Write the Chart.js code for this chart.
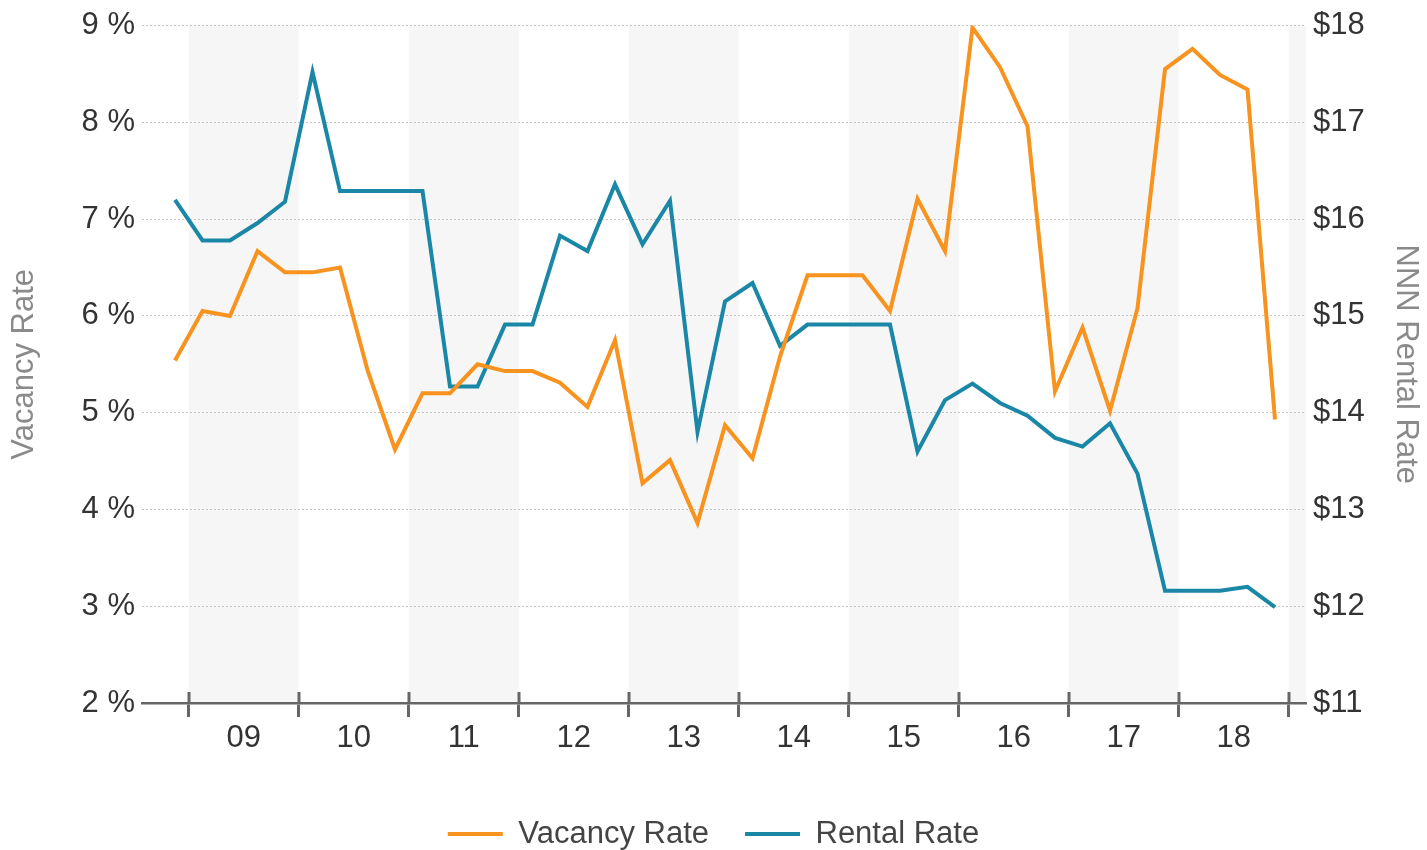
<!DOCTYPE html>
<html>
<head>
<meta charset="utf-8">
<title>Vacancy &amp; Rental Rate</title>
<script src="https://cdn.jsdelivr.net/npm/chart.js@4.4.1/dist/chart.umd.min.js"></script>
<style>
  html, body { margin: 0; padding: 0; background: #fff; }
  #wrap { width: 1427px; height: 850px; }
</style>
</head>
<body>
<div id="wrap"><canvas id="rates" width="1427" height="850"></canvas></div>
<script>
// quarterly series, 2008 Q4 .. 2018 Q4 (x = quarter index)
const quarters = []
for (let y = 2008; y <= 2018; y++) {
  for (let q = 1; q <= 4; q++) {
    if (y === 2008 && q < 4) continue
    quarters.push(y + " Q" + q)
  }
}

const vacancyRate = [
  5.54, 6.05, 6.00, 6.67, 6.45, 6.45, 6.50, 5.44, 4.62, 5.20,
  5.20, 5.50, 5.43, 5.43, 5.31, 5.06, 5.75, 4.27, 4.51, 3.86,
  4.87, 4.53, 5.58, 6.42, 6.42, 6.42, 6.05, 7.21, 6.67, 8.98,
  8.57, 7.96, 5.22, 5.88, 5.02, 6.08, 8.55, 8.76, 8.49, 8.34,
  4.93,
]

const rentalRate = [
  16.20, 15.78, 15.78, 15.96, 16.18, 17.52, 16.29, 16.29, 16.29, 16.29,
  14.27, 14.27, 14.91, 14.91, 15.83, 15.67, 16.36, 15.74, 16.19, 13.80,
  15.15, 15.34, 14.69, 14.91, 14.91, 14.91, 14.91, 13.60, 14.13, 14.30,
  14.10, 13.97, 13.74, 13.65, 13.89, 13.37, 12.16, 12.16, 12.16, 12.20,
  11.99,
]

// year boundaries in quarter-index units, label sits in the middle of each year
const yearLabels = ["09", "10", "11", "12", "13", "14", "15", "16", "17", "18"]
const yearEdges = [0.5, 4.5, 8.5, 12.5, 16.5, 20.5, 24.5, 28.5, 32.5, 36.5, 40.5]

const FONT = "'Liberation Sans', Arial, sans-serif"
const AXIS_GRAY = "#666"

const toPoints = (arr) => arr.map((v, i) => ({ x: i, y: v }))

// alternating shaded year columns behind the plot
const yearBands = {
  id: "yearBands",
  beforeDraw(chart) {
    const { ctx, chartArea, scales } = chart
    const x = scales.x
    ctx.save()
    ctx.fillStyle = "#f6f6f6"
    for (let i = 0; i < yearEdges.length; i += 2) {
      const from = x.getPixelForValue(yearEdges[i])
      const to = i + 1 < yearEdges.length ? x.getPixelForValue(yearEdges[i + 1]) : chartArea.right
      ctx.fillRect(from, chartArea.top, Math.min(to, chartArea.right) - from, chartArea.bottom - chartArea.top)
    }
    ctx.restore()
  },
  // the year tick marks cross the axis line, draw the part above it
  afterDraw(chart) {
    const { ctx, chartArea, scales } = chart
    const x = scales.x
    ctx.save()
    ctx.strokeStyle = AXIS_GRAY
    ctx.lineWidth = 3
    x.ticks.forEach((t) => {
      const px = Math.round(x.getPixelForValue(t.value))
      ctx.beginPath()
      ctx.moveTo(px, chartArea.bottom - 11)
      ctx.lineTo(px, chartArea.bottom)
      ctx.stroke()
    })
    ctx.restore()
  },
}

const ctx = document.getElementById("rates")
new Chart(ctx, {
  type: "line",
  data: {
    labels: quarters,
    datasets: [
      {
        label: "Vacancy Rate",
        data: toPoints(vacancyRate),
        yAxisID: "y",
        borderColor: "#f7931e",
        backgroundColor: "#f7931e",
        borderWidth: 4,
        pointRadius: 0,
        tension: 0,
      },
      {
        label: "Rental Rate",
        data: toPoints(rentalRate),
        yAxisID: "y1",
        borderColor: "#1b87a6",
        backgroundColor: "#1b87a6",
        borderWidth: 4,
        pointRadius: 0,
        tension: 0,
      },
    ],
  },
  options: {
    responsive: false,
    animation: false,
    layout: { padding: { top: 24, left: 0, right: 0, bottom: 0 } },
    plugins: {
      tooltip: { enabled: false },
      legend: {
        position: "bottom",
        maxHeight: 67.5,
        labels: {
          usePointStyle: true,
          pointStyle: "line",
          pointStyleWidth: 55,
          padding: 36,
          color: "#444",
          font: { family: FONT, size: 31 },
        },
      },
    },
    scales: {
      x: {
        type: "linear",
        min: -1.2,
        max: 41.127,
        afterBuildTicks(scale) {
          scale.ticks = yearEdges.map((v) => ({ value: v }))
        },
        afterFit(scale) {
          scale.height = 79.5
        },
        grid: {
          drawOnChartArea: false,
          drawTicks: true,
          tickLength: 14,
          tickWidth: 3,
          tickColor: AXIS_GRAY,
        },
        border: { display: true, color: AXIS_GRAY, width: 2.5 },
        ticks: {
          autoSkip: false,
          maxRotation: 0,
          labelOffset: 55,
          padding: 3,
          color: "#333",
          font: { family: FONT, size: 31 },
          callback: (value, index) => yearLabels[index] || "",
        },
      },
      y: {
        position: "left",
        min: 2,
        max: 9,
        afterFit(scale) {
          scale.width = 142
        },
        grid: { color: "#c4c4c4", lineWidth: 1, drawTicks: false },
        border: { display: false, dash: [2, 2] },
        ticks: {
          stepSize: 1,
          padding: 7,
          color: "#333",
          font: { family: FONT, size: 31 },
          callback: (v) => v + " %",
        },
        title: {
          display: true,
          text: "Vacancy Rate",
          color: "#8a8a8a",
          padding: { top: 6, bottom: 0 },
          font: { family: FONT, size: 31 },
        },
      },
      y1: {
        position: "right",
        min: 11,
        max: 18,
        afterFit(scale) {
          scale.width = 121
        },
        grid: { drawOnChartArea: false, drawTicks: false },
        border: { display: false },
        ticks: {
          stepSize: 1,
          padding: 7,
          color: "#333",
          font: { family: FONT, size: 31 },
          callback: (v) => "$" + v,
        },
        title: {
          display: true,
          text: "NNN Rental Rate",
          color: "#8a8a8a",
          padding: { top: 3, bottom: 0 },
          font: { family: FONT, size: 31 },
        },
      },
    },
  },
  plugins: [yearBands],
})
</script>
</body>
</html>
